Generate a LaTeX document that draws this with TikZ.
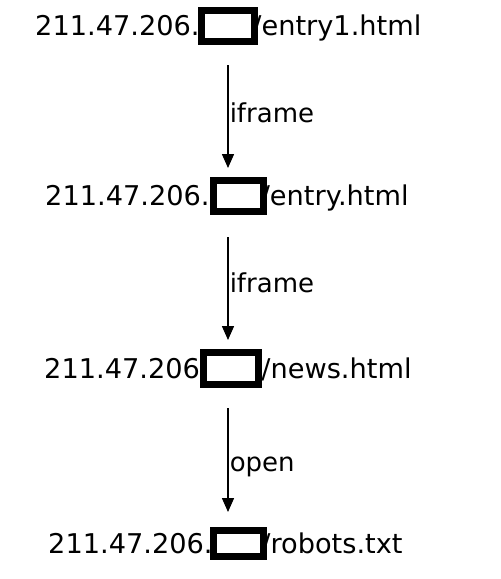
\documentclass[tikz,border=0pt]{standalone}
\usepackage{fontspec}
\setmainfont{DejaVu Sans}
\usetikzlibrary{arrows.meta,positioning,backgrounds}
\tikzset{
  url/.style={inner sep=0pt, text height=9.9pt, text depth=0pt, font=\fontsize{13.6}{16}\selectfont},
  mask/.style={rectangle, draw=black, fill=white, line width=3.5pt, inner sep=0pt, minimum width=#1},
  mask/.default={26.5pt},
  flow/.style={-{Triangle[length=7pt, width=6pt]}, line width=0.75pt, black},
  lbl/.style={inner sep=0pt, anchor=west, xshift=0.5pt, text height=9.5pt, text depth=0pt, font=\fontsize{13}{16}\selectfont},
}

\begin{document}
\begin{tikzpicture}[x=0.5pt, y=-0.5pt]
\useasboundingbox (0,0) rectangle (500,579);
% redaction boxes
\node[mask=26.5pt, minimum height=15.5pt] (b1) at (228,26) {};
\node[mask=25pt, minimum height=15.5pt] (b2) at (238.5,196) {};
\node[mask=27.5pt, minimum height=16pt] (b3) at (231,368.5) {};
\node[mask=25pt, minimum height=13pt] (b4) at (238.5,543.5) {};
% urls, behind the boxes
\begin{scope}[on background layer]
\node[url, left=-1pt of b1] (p1) {211.47.206.};
\node[url, right=-3pt of b1] (s1) {/entry1.html};
\node[url, left=0pt of b2] (p2) {211.47.206.};
\node[url, right=-3.3pt of b2] (s2) {/entry.html};
\node[url, left=-4.5pt of b3] (p3) {211.47.206.};
\node[url, right=-0.5pt of b3] (s3) {/news.html};
\node[url, left=-1.5pt of b4] (p4) {211.47.206.};
\node[url, right=-3pt of b4] (s4) {/robots.txt};
\end{scope}
% links
\draw[flow] ([yshift=-10pt]b1.south) -- ([yshift=4.5pt]b1.south |- b2.north)
  node[lbl, pos=0.47] {iframe};
\draw[flow] ([yshift=-11pt]b1.south |- b2.south) -- ([yshift=4.5pt]b1.south |- b3.north)
  node[lbl, pos=0.45] {iframe};
\draw[flow] ([yshift=-10pt]b1.south |- b3.south) -- ([yshift=7.5pt]b1.south |- b4.north)
  node[lbl, pos=0.52] {open};
\end{tikzpicture}
\end{document}
